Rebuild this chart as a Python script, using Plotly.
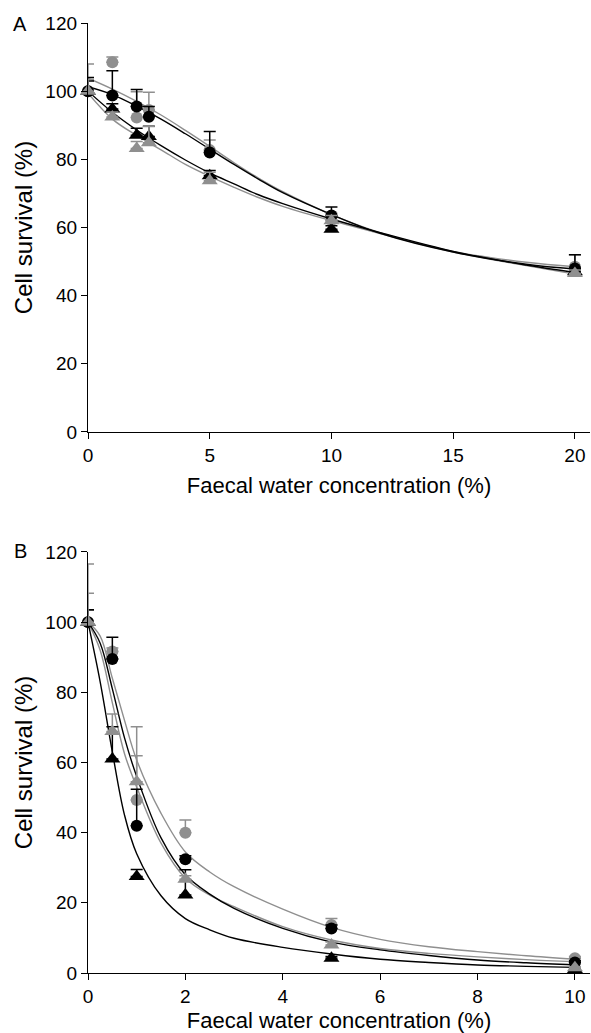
import plotly.graph_objects as go

# ---------------- Panel A data ----------------
xA = [0, 1, 2, 2.5, 5, 10, 20]
A_black_circ = [100, 98.7, 95.5, 92.5, 82, 63.5, 48]
A_black_circ_err = [3, 7.3, 5, 3, 6.2, 2.5, 4]
A_grey_circ = [100, 108.5, 92.3, 94.5, 82.7, 62.2, 48.5]
A_grey_circ_err = [8, 1.5, 7.5, 5.2, 3, 2, 3.5]
A_black_tri = [100, 94.8, 87.1, 86.7, 75.2, 59.5, 47]
A_black_tri_err = [4, 1.5, 2, 3, 1.5, 1, 1]
A_grey_tri = [100, 92.4, 83.2, 84.9, 73.7, 62, 46.5]
A_grey_tri_err = [3.5, 1.5, 2, 4.7, 2.5, 1.5, 1]

# fitted curves
xA_fit = [0, 1, 2, 3, 4, 5, 6, 7, 8, 10, 12, 15, 18, 20]
A_fit_grey_up = [103.8, 100.6, 97, 93, 88.5, 83.8, 79, 74.5, 70.5, 63.8, 58.5, 53, 49.8, 48.5]
A_fit_black_up = [101.3, 99, 95.6, 91.8, 87.5, 83, 78.5, 74.2, 70.2, 63.8, 58.3, 52.8, 49.2, 47.8]
A_fit_black_lo = [100, 93.8, 88.6, 84, 79.8, 76, 72.8, 69.6, 67, 62.5, 58.5, 53, 49, 46.8]
A_fit_grey_lo = [99.4, 91.8, 87, 82.8, 78.5, 75, 71.8, 68.8, 66.2, 62, 58.2, 52.8, 48.8, 46.3]

# ---------------- Panel B data ----------------
xB = [0, 0.5, 1, 2, 5, 10]
B_black_circ = [100, 89.5, 42, 32.4, 12.7, 3]
B_black_circ_err = [3.5, 6.2, 10.4, 1, 1, 0.5]
B_grey_circ = [100, 91.6, 49.3, 40, 13.7, 4.2]
B_grey_circ_err = [16.6, 1, 12.6, 3.6, 1.8, 0.5]
B_black_tri = [100, 61, 27.5, 22.2, 4.2, 1]
B_black_tri_err = [3.5, 9.2, 2, 7.2, 0.5, 0.3]
B_grey_tri = [100, 68.8, 54.5, 26.7, 8, 1.5]
B_grey_tri_err = [8.2, 5, 15.7, 1, 0.8, 0.3]

xB_fit = [0, 0.25, 0.5, 0.75, 1, 1.5, 2, 2.5, 3, 4, 5, 6, 7, 8, 9, 10]
B_fit_black_tri = [100, 83, 63, 45, 34, 22, 15.5, 12.3, 9.9, 7.3, 5.4, 3.9, 3, 2.3, 1.9, 1.6]
B_fit_grey_tri = [100, 92, 77, 62.5, 53, 37, 27, 22.2, 18.9, 13.2, 9.4, 7, 5.6, 4.6, 3.8, 3.2]
B_fit_black_circ = [100, 94, 81, 67, 56, 38.5, 28, 22.5, 18.4, 12.7, 8.8, 6.6, 5, 3.7, 2.9, 2.3]
B_fit_grey_circ = [100, 96, 84, 72, 60.7, 45.5, 34.5, 28.8, 24.6, 18.2, 13, 9.6, 7.5, 6.1, 4.9, 3.9]

y_ticks = [0, 20, 40, 60, 80, 100, 120]
xA_ticks = [0, 5, 10, 15, 20]
xB_ticks = [0, 2, 4, 6, 8, 10]

BLACK = "#000000"
GREY = "#8f8f8f"
FONT = "Liberation Sans, Arial, sans-serif"

fig = go.Figure()

def add_curve(x, y, color, xa, ya):
    fig.add_trace(go.Scatter(x=x, y=y, mode="lines", line=dict(color=color, width=1.4, shape="spline"),
                             xaxis=xa, yaxis=ya, showlegend=False, hoverinfo="skip", cliponaxis=False))

def add_points(x, y, err, color, symbol, size, xa, ya):
    fig.add_trace(go.Scatter(
        x=x, y=y, mode="markers",
        marker=dict(color=color, symbol=symbol, size=size, line=dict(width=0)),
        error_y=dict(type="data", symmetric=False, array=err, arrayminus=[0] * len(err),
                     color=color, thickness=1.5, width=6),
        xaxis=xa, yaxis=ya, showlegend=False, cliponaxis=False))

# Panel A
add_curve(xA_fit, A_fit_grey_up, GREY, "x", "y")
add_curve(xA_fit, A_fit_grey_lo, GREY, "x", "y")
add_curve(xA_fit, A_fit_black_up, BLACK, "x", "y")
add_curve(xA_fit, A_fit_black_lo, BLACK, "x", "y")
add_points(xA, A_grey_circ, A_grey_circ_err, GREY, "circle", 12, "x", "y")
add_points(xA, A_black_circ, A_black_circ_err, BLACK, "circle", 12, "x", "y")
add_points(xA, A_black_tri, A_black_tri_err, BLACK, "triangle-up", 14, "x", "y")
add_points(xA, A_grey_tri, A_grey_tri_err, GREY, "triangle-up", 14, "x", "y")

# Panel B
add_curve(xB_fit, B_fit_grey_circ, GREY, "x2", "y2")
add_curve(xB_fit, B_fit_grey_tri, GREY, "x2", "y2")
add_curve(xB_fit, B_fit_black_circ, BLACK, "x2", "y2")
add_curve(xB_fit, B_fit_black_tri, BLACK, "x2", "y2")
add_points(xB, B_grey_circ, B_grey_circ_err, GREY, "circle", 12, "x2", "y2")
add_points(xB, B_black_circ, B_black_circ_err, BLACK, "circle", 12, "x2", "y2")
add_points(xB, B_black_tri, B_black_tri_err, BLACK, "triangle-up", 14, "x2", "y2")
add_points(xB, B_grey_tri, B_grey_tri_err, GREY, "triangle-up", 14, "x2", "y2")

axis_common = dict(showline=True, linecolor="#000", linewidth=1.3, ticks="outside", ticklen=6,
                   tickwidth=1.3, tickcolor="#000", showgrid=False, zeroline=False,
                   tickfont=dict(family=FONT, size=19, color="#000"))

title_font = dict(family=FONT, size=22, color="#000")
ytitle_font = dict(family=FONT, size=24, color="#000")

W, H = 591, 1033
l, r, t, b = 88, 1, 23, 60
pw, ph = W - l - r, H - t - b

fig.update_layout(
    width=W, height=H,
    margin=dict(l=l, r=r, t=t, b=b),
    paper_bgcolor="white", plot_bgcolor="white",
    font=dict(family=FONT, color="#000"),
    xaxis=dict(domain=[0, 1], anchor="y", range=[0, 20.62], tickvals=xA_ticks,
               title=dict(text="Faecal water concentration (%)", font=title_font, standoff=12), **axis_common),
    yaxis=dict(domain=[0.5695, 1], anchor="x", range=[0, 120], tickvals=y_ticks,
               title=dict(text="Cell survival (%)", font=ytitle_font, standoff=5), **axis_common),
    xaxis2=dict(domain=[0, 1], anchor="y2", range=[0, 10.31], tickvals=xB_ticks,
                title=dict(text="Faecal water concentration (%)", font=title_font, standoff=8), **axis_common),
    yaxis2=dict(domain=[0, 0.4432], anchor="x2", range=[0, 120], tickvals=y_ticks,
                title=dict(text="Cell survival (%)", font=ytitle_font, standoff=5), **axis_common),
)

for txt, px, py in [("A", 20, 24), ("B", 20, 551)]:
    fig.add_annotation(text=txt, x=(px - l) / pw, y=1 - (py - t) / ph, xref="paper", yref="paper",
                       showarrow=False, xanchor="center", yanchor="middle",
                       font=dict(family=FONT, size=20, color="#000"))

fig.write_html("out.html", config={"displayModeBar": False},
               post_script="document.body.style.margin='0';document.body.style.overflow='hidden';")
